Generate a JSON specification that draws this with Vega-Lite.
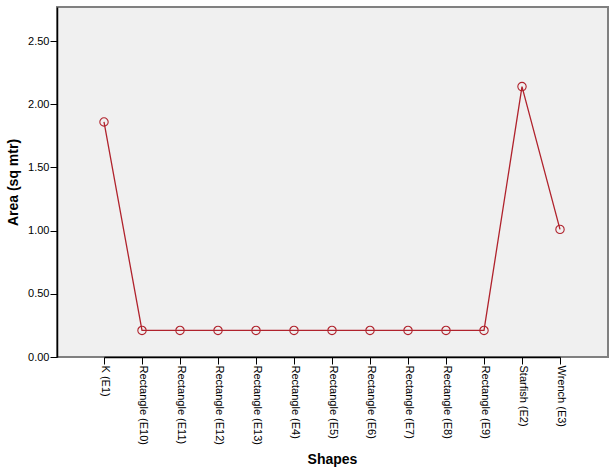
{
  "$schema": "https://vega.github.io/schema/vega-lite/v6.json",
  "width": 551,
  "height": 350,
  "autosize": "none",
  "padding": {"left": 57, "top": 7, "right": 6, "bottom": 111},
  "background": "white",
  "config": {
    "font": "Liberation Sans",
    "view": {"fill": "#F0F0F0", "stroke": "#808080", "strokeWidth": 2}
  },
  "data": {
    "values": [
      {"shape": "K (E1)", "area": 1.86},
      {"shape": "Rectangle (E10)", "area": 0.21},
      {"shape": "Rectangle (E11)", "area": 0.21},
      {"shape": "Rectangle (E12)", "area": 0.21},
      {"shape": "Rectangle (E13)", "area": 0.21},
      {"shape": "Rectangle (E4)", "area": 0.21},
      {"shape": "Rectangle (E5)", "area": 0.21},
      {"shape": "Rectangle (E6)", "area": 0.21},
      {"shape": "Rectangle (E7)", "area": 0.21},
      {"shape": "Rectangle (E8)", "area": 0.21},
      {"shape": "Rectangle (E9)", "area": 0.21},
      {"shape": "Starfish (E2)", "area": 2.14},
      {"shape": "Wrench (E3)", "area": 1.01}
    ]
  },
  "encoding": {
    "x": {
      "field": "shape",
      "type": "nominal",
      "sort": null,
      "scale": {"type": "point", "padding": 0, "range": [47, 503]},
      "axis": {
        "title": "Shapes",
        "titleFontSize": 14,
        "titleFontWeight": "bold",
        "titleColor": "black",
        "titleY": 95,
        "titleBaseline": "top",
        "labelAngle": 90,
        "labelAlign": "left",
        "labelBaseline": "middle",
        "labelFontSize": 11,
        "labelColor": "black",
        "labelPadding": 1,
        "tickSize": 7,
        "tickColor": "black",
        "domainColor": "black",
        "domainWidth": 1.5,
        "labelOverlap": false,
        "labelLimit": 200
      }
    },
    "y": {
      "field": "area",
      "type": "quantitative",
      "scale": {"domain": [0, 2.77], "nice": false, "zero": true},
      "axis": {
        "title": "Area (sq mtr)",
        "titleFontSize": 14,
        "titleFontWeight": "bold",
        "titleColor": "black",
        "titleX": -37,
        "values": [0, 0.5, 1, 1.5, 2, 2.5],
        "format": ".2f",
        "grid": false,
        "labelFontSize": 11,
        "labelColor": "black",
        "labelPadding": 1,
        "tickSize": 7,
        "tickColor": "black",
        "domainColor": "black",
        "domainWidth": 1.5
      }
    }
  },
  "layer": [
    {"mark": {"type": "line", "color": "#B0222C", "strokeWidth": 1.3}},
    {"mark": {"type": "point", "shape": "circle", "filled": false, "color": "#B0222C", "size": 70, "strokeWidth": 1.1, "opacity": 1}}
  ]
}
